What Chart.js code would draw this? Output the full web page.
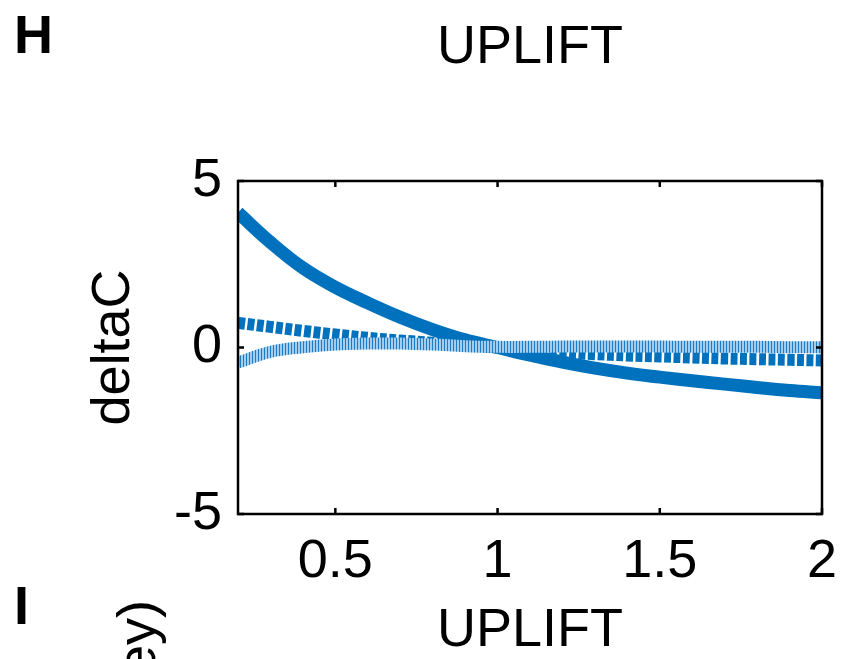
<!DOCTYPE html>
<html lang="en">
<head>
    <meta charset="UTF-8">
    <title>UPLIFT</title>
    <style>
        html, body { margin: 0; padding: 0; background: #ffffff; }
        #chart { display: block; }
    </style>
</head>
<body>
    <canvas id="chart" width="841" height="659"></canvas>

    <script src="https://cdn.jsdelivr.net/npm/chart.js"></script>
    <script>
        // values
        const upliftX = [0.2, 0.3, 0.4, 0.5, 0.6, 0.7, 0.8, 0.9, 1.0,
                         1.1, 1.2, 1.3, 1.4, 1.5, 1.6, 1.7, 1.8, 1.9, 2.0];
        const deltaSolid = [4.05, 3.16, 2.39, 1.81, 1.34, 0.91, 0.54, 0.23, 0,
                            -0.23, -0.44, -0.62, -0.77, -0.89, -1.0, -1.1, -1.2, -1.29, -1.36];
        const deltaDashed = [0.74, 0.62, 0.5, 0.39, 0.29, 0.21, 0.14, 0.07, 0,
                             -0.08, -0.15, -0.2, -0.24, -0.27, -0.3, -0.33, -0.35, -0.37, -0.39];
        const deltaDotted = [-0.45, -0.13, 0.01, 0.09, 0.12, 0.12, 0.09, 0.04, 0.02,
                             0.02, 0.03, 0.03, 0.03, 0.03, 0.02, 0.02, 0.02, 0.01, 0.01];
        const xTicks = [0.5, 1, 1.5, 2];
        const yTicks = [-5, 0, 5];

        const FONT = 'Liberation Sans, Arial, sans-serif';
        const BLUE = '#0072BD';

        const canvas = document.getElementById('chart');
        const ctx = canvas.getContext('2d');

        // thin dark stripes on light blue, like the thick dotted matlab line
        const pc = document.createElement('canvas');
        pc.width = 3; pc.height = 1;
        const pctx = pc.getContext('2d');
        pctx.fillStyle = '#a3cdee';
        pctx.fillRect(0, 0, 3, 1);
        pctx.fillStyle = '#1f7cc3';
        pctx.fillRect(0, 0, 1, 1);
        const dotPattern = ctx.createPattern(pc, 'repeat');

        const toPoints = ys => upliftX.map((x, i) => ({ x: x, y: ys[i] }));

        // box, inward ticks and panel letters
        const boxPlugin = {
            id: 'box',
            afterDraw(chart) {
                const c = chart.ctx;
                const a = chart.chartArea;
                const xs = chart.scales.x, ys = chart.scales.y;
                c.save();
                c.strokeStyle = '#000';
                c.lineWidth = 2.5;
                c.beginPath();
                xTicks.forEach(v => {
                    const px = xs.getPixelForValue(v);
                    c.moveTo(px, a.bottom); c.lineTo(px, a.bottom - 6);
                    c.moveTo(px, a.top); c.lineTo(px, a.top + 6);
                });
                yTicks.forEach(v => {
                    const py = ys.getPixelForValue(v);
                    c.moveTo(a.left, py); c.lineTo(a.left + 6, py);
                    c.moveTo(a.right, py); c.lineTo(a.right - 6, py);
                });
                c.stroke();
                c.strokeRect(a.left, a.top, a.right - a.left, a.bottom - a.top);

                c.fillStyle = '#000';
                c.textAlign = 'left';
                c.textBaseline = 'alphabetic';
                c.font = 'bold 54px ' + FONT;
                c.fillText('H', 14, 53);
                c.fillText('I', 14, 624);

                c.font = '54px ' + FONT;
                c.translate(155, 600);
                c.rotate(-Math.PI / 2);
                c.textAlign = 'right';
                c.fillText('ey)', 0, 0);
                c.restore();
            }
        };

        new Chart(ctx, {
            type: 'line',
            data: {
                datasets: [
                    { data: toPoints(deltaDotted), borderColor: dotPattern, borderWidth: 12, order: 0 },
                    { data: toPoints(deltaDashed), borderColor: BLUE, borderWidth: 12, borderDash: [7, 2.5], order: 1 },
                    { data: toPoints(deltaSolid), borderColor: BLUE, borderWidth: 13, order: 2 }
                ]
            },
            options: {
                responsive: false,
                animation: false,
                devicePixelRatio: 1,
                layout: { padding: { top: 0, right: 19, bottom: 0, left: 0 } },
                datasets: {
                    line: {
                        pointRadius: 0,
                        fill: false,
                        tension: 0.4,
                        borderCapStyle: 'butt',
                        clip: 0
                    }
                },
                plugins: {
                    legend: { display: false },
                    tooltip: { enabled: false },
                    title: {
                        display: true,
                        text: 'UPLIFT',
                        fullSize: false,
                        color: '#000',
                        font: { family: FONT, size: 54, weight: 'normal', lineHeight: 1 },
                        padding: { top: 21, bottom: 106 }
                    }
                },
                scales: {
                    x: {
                        type: 'linear',
                        min: 0.2,
                        max: 2,
                        afterBuildTicks: s => { s.ticks = xTicks.map(v => ({ value: v })); },
                        afterFit: s => { s.height = 145; s.paddingLeft = 0; s.paddingRight = 0; },
                        grid: { display: false, drawTicks: false },
                        border: { display: false },
                        ticks: {
                            padding: 16,
                            color: '#000',
                            maxRotation: 0,
                            font: { family: FONT, size: 54 },
                            callback: v => String(v)
                        },
                        title: {
                            display: true,
                            text: 'UPLIFT',
                            color: '#000',
                            font: { family: FONT, size: 54, lineHeight: 1 },
                            padding: { top: 0, bottom: 1 }
                        }
                    },
                    y: {
                        min: -5,
                        max: 5,
                        afterBuildTicks: s => { s.ticks = yTicks.map(v => ({ value: v })); },
                        afterFit: s => { s.width = 238; },
                        grid: { display: false, drawTicks: false },
                        border: { display: false },
                        ticks: {
                            padding: 16,
                            color: '#000',
                            font: { family: FONT, size: 54 },
                            callback: v => String(v)
                        },
                        title: {
                            display: true,
                            text: 'deltaC',
                            color: '#000',
                            font: { family: FONT, size: 54, lineHeight: 1 },
                            padding: { top: 87, bottom: 0 }
                        }
                    }
                }
            },
            plugins: [boxPlugin]
        });
    </script>
</body>
</html>
